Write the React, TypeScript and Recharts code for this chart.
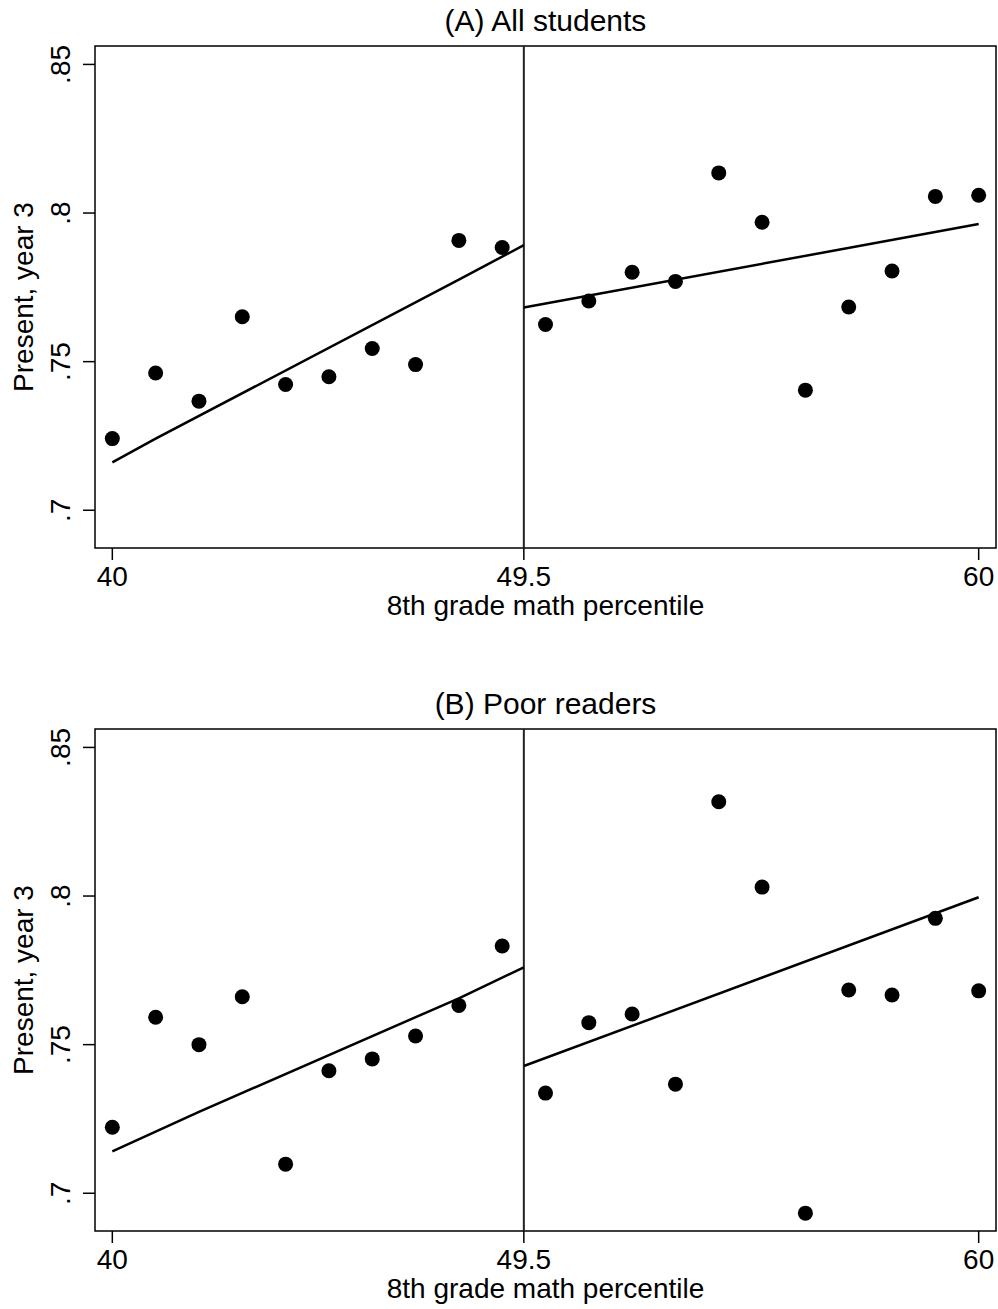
import React from "react";
import { ScatterChart, Scatter, XAxis, YAxis, ReferenceLine, ReferenceArea, Label } from "recharts";

const FONT = '"Liberation Sans", Arial, Helvetica, sans-serif';

// 8th grade math percentile bins
const percentiles = [40, 41, 42, 43, 44, 45, 46, 47, 48, 49, 50, 51, 52, 53, 54, 55, 56, 57, 58, 59, 60];

// share present in year 3, per bin
const allStudents = [
  0.7241, 0.7462, 0.7367, 0.7651, 0.7423, 0.7449, 0.7544, 0.749, 0.7908, 0.7884,
  0.7625, 0.7704, 0.7801, 0.777, 0.8135, 0.7969, 0.7404, 0.7684, 0.7805, 0.8056, 0.806,
];
const poorReaders = [
  0.7222, 0.7592, 0.75, 0.7661, 0.7098, 0.7412, 0.7452, 0.7529, 0.7632, 0.7832,
  0.7337, 0.7574, 0.7603, 0.7367, 0.8317, 0.803, 0.6933, 0.7684, 0.7667, 0.7925, 0.7681,
];

// fitted lines either side of the cutoff
const fitAllLeftX = [40, 41, 48, 49.5];
const fitAllLeftY = [0.7161, 0.7241, 0.7776, 0.7892];
const fitAllRightX = [49.5, 60];
const fitAllRightY = [0.7682, 0.7963];
const fitPoorLeftX = [40, 42, 48, 49.5];
const fitPoorLeftY = [0.7141, 0.7274, 0.7656, 0.776];
const fitPoorRightX = [49.5, 60];
const fitPoorRightY = [0.7428, 0.7996];

const cutoff = 49.5;
const xTicks = [40, 49.5, 60];
const yTicks = [0.7, 0.75, 0.8, 0.85];
const xDomain = [39.6, 60.4];
const yDomain = [0.6873, 0.8562];

const pairs = (xs: number[], ys: number[]) => xs.map((x, i) => ({ x, y: ys[i] }));

const XTick = (props: any) => (
  <text x={props.x} y={props.y + 24} textAnchor="middle" fontFamily={FONT} fontSize={28} fill="#000">
    {props.payload.value}
  </text>
);

const YTick = (props: any) => {
  const x = props.x - 11;
  const label = String(props.payload.value).replace(/^0/, "");
  return (
    <text x={x} y={props.y} textAnchor="middle" transform={`rotate(-90, ${x}, ${props.y})`} fontFamily={FONT} fontSize={28} fill="#000">
      {label}
    </text>
  );
};

const XTitle = (props: any) => {
  const vb = props.viewBox;
  return (
    <text x={vb.x + vb.width / 2} y={vb.y + 67} textAnchor="middle" fontFamily={FONT} fontSize={28} fill="#000">
      8th grade math percentile
    </text>
  );
};

const YTitle = (props: any) => {
  const vb = props.viewBox;
  const x = vb.x + 33;
  const y = vb.y + vb.height / 2;
  return (
    <text x={x} y={y} textAnchor="middle" transform={`rotate(-90, ${x}, ${y})`} fontFamily={FONT} fontSize={28} fill="#000">
      Present, year 3
    </text>
  );
};

const Dot = (p: any) => <circle cx={p.cx} cy={p.cy} r={7.5} fill="#000" />;
const NoDot = () => <g />;

function Panel({ title, values, fitLeft, fitRight }: any) {
  const points = percentiles.map((x, i) => ({ x, y: values[i] }));
  return (
    <div style={{ position: "relative", width: 998, height: 683 }}>
      <div
        style={{
          position: "absolute",
          left: 95,
          top: 6,
          width: 901,
          textAlign: "center",
          fontFamily: FONT,
          fontSize: 30,
          lineHeight: "30px",
          color: "#000",
        }}
      >
        {title}
      </div>
      <ScatterChart width={998} height={683} margin={{ top: 46, right: 2, bottom: 0, left: 0 }}>
        <XAxis
          type="number"
          dataKey="x"
          domain={xDomain}
          ticks={xTicks}
          interval={0}
          allowDataOverflow
          height={135}
          tickSize={12}
          axisLine={false}
          tickLine={{ stroke: "#000", strokeWidth: 1.5 }}
          tick={<XTick />}
        >
          <Label content={XTitle} />
        </XAxis>
        <YAxis
          type="number"
          dataKey="y"
          domain={yDomain}
          ticks={yTicks}
          interval={0}
          allowDataOverflow
          width={95}
          tickSize={12}
          axisLine={false}
          tickLine={{ stroke: "#000", strokeWidth: 1.5 }}
          tick={<YTick />}
        >
          <Label content={YTitle} />
        </YAxis>
        <ReferenceLine x={cutoff} stroke="#222" strokeWidth={2} />
        <Scatter data={points} shape={Dot} isAnimationActive={false} />
        <Scatter data={fitLeft} line={{ stroke: "#000", strokeWidth: 2.5 }} shape={NoDot} isAnimationActive={false} />
        <Scatter data={fitRight} line={{ stroke: "#000", strokeWidth: 2.5 }} shape={NoDot} isAnimationActive={false} />
        <ReferenceArea
          x1={xDomain[0]}
          x2={xDomain[1]}
          y1={yDomain[0]}
          y2={yDomain[1]}
          fill="none"
          stroke="#000"
          strokeWidth={1.5}
          ifOverflow="visible"
        />
      </ScatterChart>
    </div>
  );
}

export default function App() {
  return (
    <div style={{ width: 998, height: 1309, background: "#fff" }}>
      <style>{"body{margin:0}"}</style>
      <Panel
        title="(A) All students"
        values={allStudents}
        fitLeft={pairs(fitAllLeftX, fitAllLeftY)}
        fitRight={pairs(fitAllRightX, fitAllRightY)}
      />
      <Panel
        title="(B) Poor readers"
        values={poorReaders}
        fitLeft={pairs(fitPoorLeftX, fitPoorLeftY)}
        fitRight={pairs(fitPoorRightX, fitPoorRightY)}
      />
    </div>
  );
}
